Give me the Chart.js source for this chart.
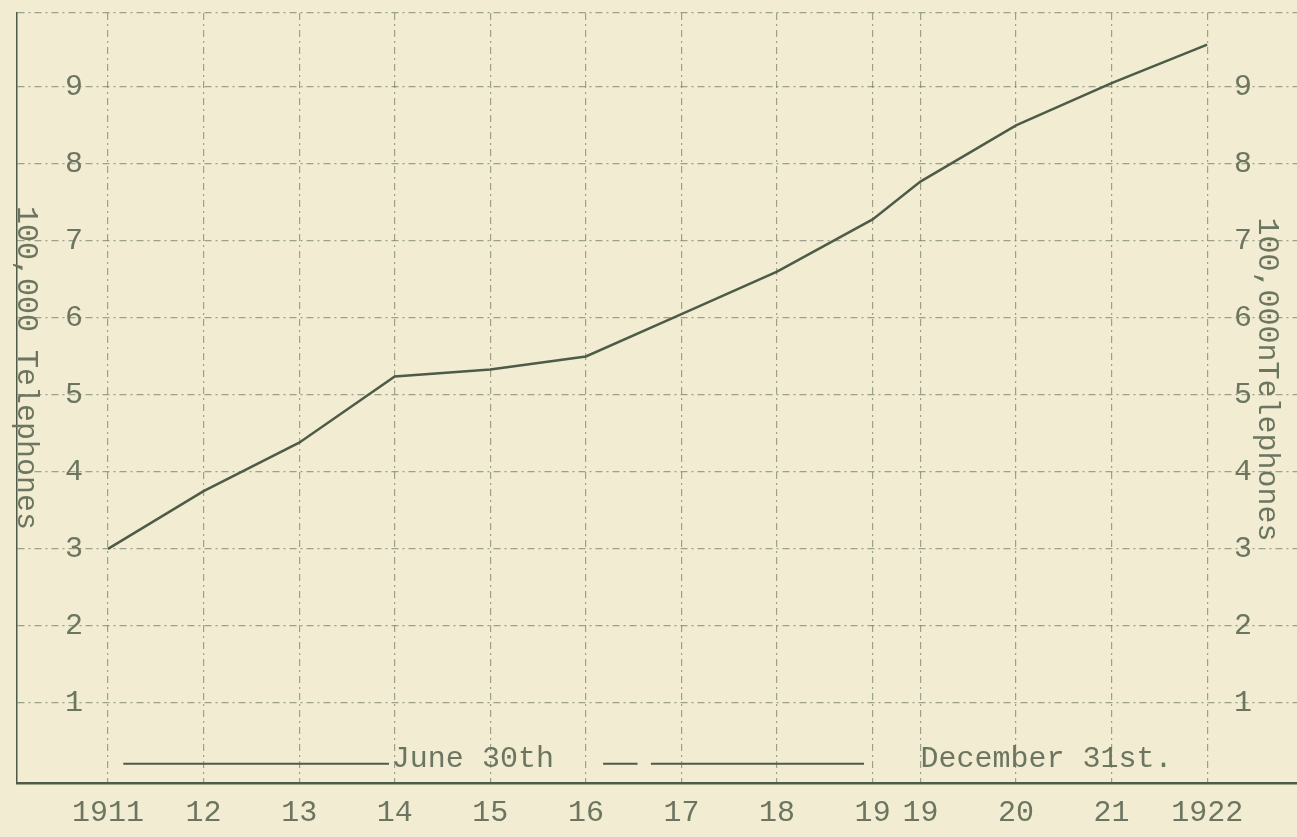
<!DOCTYPE html>
<html>
<head>
<meta charset="utf-8">
<script src="https://cdn.jsdelivr.net/npm/chart.js@4.4.0/dist/chart.umd.min.js"></script>
<style>
  html, body { margin: 0; padding: 0; background: #f2edd2; }
  #wrap { width: 1297px; height: 837px; }
</style>
</head>
<body>
<div id="wrap"><canvas id="c"></canvas></div>
<script>
// Telephones in service, in units of 100,000 (June 30th up to 1919, then December 31st)
const YEARS = [1911.5, 1912.5, 1913.5, 1914.5, 1915.5, 1916.5, 1917.5, 1918.5, 1919.5, 1920, 1921, 1922, 1923];
const TELEPHONES = [3.0, 3.75, 4.38, 5.24, 5.33, 5.5, 6.05, 6.6, 7.28, 7.77, 8.5, 9.05, 9.55];
const YEAR_LABELS = ['1911', '12', '13', '14', '15', '16', '17', '18', '19', '19', '20', '21', '1922'];
const Y_TICKS = [1, 2, 3, 4, 5, 6, 7, 8, 9];

// key lines under the curve
const JUNE_KEY_X = [1911.66, 1914.44];
const DEC_KEY_X = [1916.68, 1917.04, null, 1917.18, 1919.41];
const KEY_LEVEL = 0.21;

const PAPER = '#f2edd2';
const INK = '#6c7560';
const GRID = 'rgba(120,128,108,0.7)';
const LINE = '#4d5b47';
const FONT = { family: '"Liberation Mono", "DejaVu Sans Mono", monospace', size: 30 };

const paper = {
  id: 'paper',
  beforeDraw(chart) {
    const { ctx, width, height } = chart;
    ctx.save();
    ctx.fillStyle = PAPER;
    ctx.fillRect(0, 0, width, height);
    ctx.restore();
  }
};

// typed notes: key captions and the two sideways axis titles
const notes = {
  id: 'notes',
  afterDraw(chart) {
    const { ctx, scales: { x, y } } = chart;
    ctx.save();
    ctx.fillStyle = INK;
    ctx.font = `${FONT.size}px ${FONT.family}`;
    ctx.textBaseline = 'alphabetic';
    ctx.textAlign = 'left';
    const ky = y.getPixelForValue(KEY_LEVEL) + 3;
    ctx.fillText('June 30th', x.getPixelForValue(1914.47), ky);
    ctx.fillText('December 31st.', x.getPixelForValue(1920.0), ky);

    ctx.textAlign = 'center';
    ctx.textBaseline = 'middle';
    const side = (px, val, text) => {
      ctx.save();
      ctx.translate(px, y.getPixelForValue(val));
      ctx.rotate(Math.PI / 2);
      ctx.fillText(text, 0, 0);
      ctx.restore();
    };
    side(chart.chartArea.left + 9, 5.35, '100,000 Telephones');
    side(chart.chartArea.right - 30, 5.2, '100,000nTelephones');
    ctx.restore();
  }
};

const noPad = s => { s.paddingTop = 0; s.paddingBottom = 0; s.paddingLeft = 0; s.paddingRight = 0; };

const yOpts = (position, padding) => ({
  type: 'linear',
  position,
  min: -0.04,
  max: 9.96,
  afterBuildTicks: s => { s.ticks = [...Y_TICKS, 9.96].map(v => ({ value: v })); },
  afterFit: s => { s.width = 0; noPad(s); },
  ticks: {
    mirror: true,
    padding,
    color: INK,
    font: FONT,
    callback: v => Y_TICKS.includes(v) ? String(v) : ''
  }
});

new Chart(document.getElementById('c'), {
  type: 'line',
  data: {
    datasets: [
      {
        data: YEARS.map((yr, i) => ({ x: yr, y: TELEPHONES[i] })),
        borderColor: LINE,
        borderWidth: 2.5,
        pointRadius: 0,
        tension: 0
      },
      {
        data: JUNE_KEY_X.map(v => ({ x: v, y: KEY_LEVEL })),
        borderColor: LINE,
        borderWidth: 2,
        pointRadius: 0
      },
      {
        data: DEC_KEY_X.map(v => ({ x: v === null ? 1917.1 : v, y: v === null ? null : KEY_LEVEL })),
        borderColor: LINE,
        borderWidth: 2,
        pointRadius: 0,
        spanGaps: false
      }
    ]
  },
  options: {
    responsive: true,
    maintainAspectRatio: false,
    animation: false,
    layout: { padding: { left: 17, top: 13, right: 0, bottom: 0 } },
    plugins: { legend: { display: false }, tooltip: { enabled: false } },
    scales: {
      x: {
        type: 'linear',
        min: 1910.548,
        max: 1923.94,
        afterBuildTicks: s => { s.ticks = YEARS.map(v => ({ value: v })); },
        afterFit: s => { s.height = 54; noPad(s); },
        ticks: {
          autoSkip: false,
          maxRotation: 0,
          padding: 12,
          color: INK,
          font: FONT,
          callback: (v, i) => YEAR_LABELS[i]
        },
        grid: { color: GRID, lineWidth: 1.2, drawTicks: false },
        border: { display: true, color: LINE, width: 2.5, dash: [7, 4, 2, 4] }
      },
      y: {
        ...yOpts('left', 48),
        grid: { color: GRID, lineWidth: 1.2, drawTicks: false },
        border: { display: true, color: LINE, width: 1.5, dash: [7, 4, 2, 4] }
      },
      y2: {
        ...yOpts('right', -45),
        grid: { display: false, drawTicks: false },
        border: { display: false }
      }
    }
  },
  plugins: [paper, notes]
});
</script>
</body>
</html>
